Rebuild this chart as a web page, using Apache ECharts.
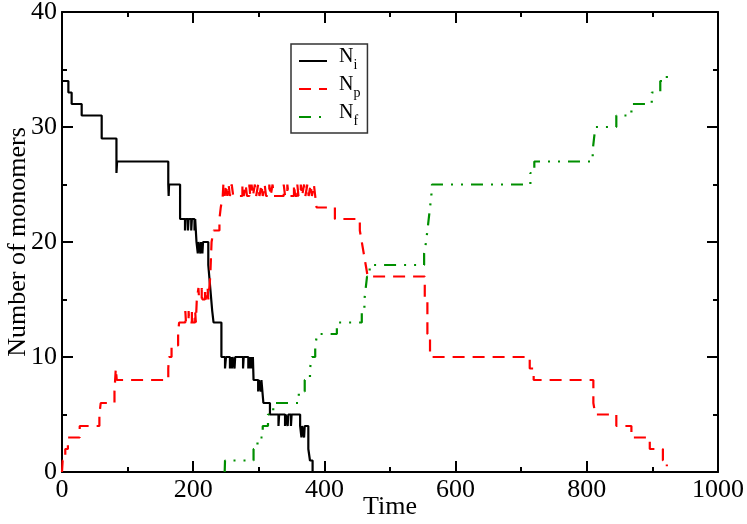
<!DOCTYPE html>
<html>
<head>
<meta charset="utf-8">
<script src="https://cdn.jsdelivr.net/npm/echarts@6/dist/echarts.min.js"></script>
<style>
html, body { margin: 0; padding: 0; background: #fff; }
#main { width: 747px; height: 524px; }
</style>
</head>
<body>
<div id="main"></div>
<script>
// N_i : black, solid
var niTime = [0, 9.7, 14.7, 30, 60.5, 83, 84, 162, 162.6, 163.2, 180,
    187.5, 188.5, 192, 193, 197, 198, 202, 203, 205,
    207, 208, 211, 212, 214, 215, 223, 226, 229, 231, 243,
    248.5, 250, 256, 257, 259, 260, 263, 264, 276, 277, 284, 285, 287, 288, 290, 291,
    292, 299, 300, 303, 304, 307, 317, 330, 331, 340, 341, 344, 345, 349, 350,
    363, 365, 366, 369, 370, 375.5, 378, 382];
var niCount = [34, 33, 32, 31, 29, 26, 27, 25, 24, 25, 22,
    21, 22, 21, 22, 21, 22, 21, 22, 20,
    19, 20, 19, 20, 19, 20, 18, 16, 14, 13, 10,
    9, 10, 9, 10, 9, 10, 9, 10, 9, 10, 9, 10, 9, 10, 9, 10,
    8, 7, 8, 7, 8, 6, 5, 4, 5, 4, 5, 4, 5, 4, 5,
    4, 3, 4, 3, 4, 2, 1, 0];

// N_p : red, dashed
var npTime = [0, 1, 5, 9, 27, 57, 59, 80, 81, 82, 83.5, 162, 163, 167, 177, 178.5,
    188, 189, 193, 194, 198, 199, 203, 204, 205.5, 208, 209, 213, 214, 218, 219, 222, 223,
    226, 228, 231, 240, 242, 245,
    246, 248, 250, 252, 254, 256, 258.7, 261, 275, 277, 280, 282, 285.6, 287, 289, 291,
    294, 296, 299, 301, 304, 306, 309, 311, 316, 318, 321, 323, 338, 340, 343.5, 345.5,
    353.6, 355.5, 358.7, 360.5, 364, 366, 369, 371, 374, 376, 379, 381, 384, 386,
    388, 416, 454, 457, 460, 463, 466, 553, 557, 561, 713, 719, 810, 813, 845, 868, 896, 916, 922];
var npCount = [0, 1, 2, 3, 4, 5, 6, 7, 8, 9, 8, 9, 10, 11, 12, 13,
    14, 13, 14, 13, 14, 13, 14, 13, 15, 16, 15, 16, 15, 16, 15, 16, 15,
    17, 20, 21, 22, 23, 24,
    25, 24, 25, 24, 25, 24, 25, 24, 25, 24, 25, 24, 25, 24, 25, 24,
    25, 24, 25, 24, 25, 24, 25, 24, 25, 24, 25, 24, 25, 24, 25, 24,
    25, 24, 25, 24, 25, 24, 25, 24, 25, 24, 25, 24, 25, 24,
    23, 22, 21, 20, 19, 18, 17, 15, 12, 10, 9, 8, 6, 5, 4, 3, 2, 1, 0.5];

// N_f : green, dash-dot-dot
var nfTime = [248, 248.5, 292, 298, 306, 314, 322, 361, 370, 378, 381, 386, 389, 419,
    457, 461, 463, 465, 469, 552, 555, 557, 559, 561, 563, 564,
    714, 720, 809, 811, 813, 845, 868, 899, 912, 922];
var nfCount = [0, 1, 2, 3, 4, 5, 6, 7, 8, 9, 10, 11, 12, 13,
    14, 15, 16, 17, 18, 19, 20, 21, 22, 23, 24, 25,
    26, 27, 28, 29, 30, 31, 32, 33, 34, 35];

var seriesNames = ['Ni', 'Np', 'Nf'];

function zip(t, n) {
    var out = [];
    for (var i = 0; i < t.length; i++) {
        out.push([t[i], n[i]]);
    }
    return out;
}

var serif = 'Liberation Serif';

function frameAxis(pos, min, max, interval, showLabel, name) {
    return {
        type: 'value',
        position: pos,
        min: min,
        max: max,
        interval: interval,
        name: name || '',
        nameLocation: 'middle',
        nameGap: (pos == 'left') ? 31 : 22,
        nameMoveOverlap: false,
        nameTextStyle: { fontFamily: serif, fontSize: 26, color: '#000' },
        axisLine: { show: true, onZero: false, lineStyle: { color: '#000', width: 2 } },
        axisTick: { show: true, inside: true, length: 11, lineStyle: { color: '#000', width: 2 } },
        minorTick: { show: true, splitNumber: 2, length: 5, lineStyle: { color: '#000', width: 2 } },
        axisLabel: {
            show: showLabel, fontFamily: serif, fontSize: 26, color: '#000', margin: 5,
            formatter: function (v) { return String(v); }
        },
        splitLine: { show: false }
    };
}

var myChart = echarts.init(document.getElementById('main'));
var option = {
    animation: false,
    backgroundColor: '#fff',
    grid: { left: 62, right: 29, top: 12, bottom: 52, containLabel: false, outerBoundsMode: 'none' },
    legend: {
        data: seriesNames,
        orient: 'vertical',
        left: 291,
        top: 44,
        padding: [3, 7, 2, 7],
        itemGap: 0,
        itemWidth: 28,
        itemHeight: 14,
        borderColor: '#333',
        borderWidth: 1.5,
        itemStyle: { opacity: 0 },
        formatter: function (name) {
            return '{n|N}{s|' + name.slice(1) + '}';
        },
        textStyle: {
            color: '#000',
            fontFamily: serif,
            rich: {
                n: { fontFamily: serif, fontSize: 20, lineHeight: 20, padding: [0, 0, 8, 7], color: '#000' },
                s: { fontFamily: serif, fontSize: 14, lineHeight: 14, padding: [8, 0, 0, 0], color: '#000' }
            }
        }
    },
    xAxis: [
        frameAxis('bottom', 0, 1000, 200, true, 'Time'),
        frameAxis('top', 0, 1000, 200, false)
    ],
    yAxis: [
        frameAxis('left', 0, 40, 10, true, 'Number of monomers'),
        frameAxis('right', 0, 40, 10, false)
    ],
    series: [
        {
            name: 'Ni', type: 'line', step: 'end', symbol: 'none', showSymbol: false,
            xAxisIndex: 0, yAxisIndex: 0,
            data: zip(niTime, niCount),
            lineStyle: { color: '#000', width: 2.2, type: 'solid' },
            itemStyle: { color: '#000' }
        },
        {
            name: 'Np', type: 'line', step: 'end', symbol: 'none', showSymbol: false,
            xAxisIndex: 0, yAxisIndex: 0,
            data: zip(npTime, npCount),
            lineStyle: { color: '#ff0000', width: 2.2, type: [12, 8] },
            itemStyle: { color: '#ff0000' }
        },
        {
            name: 'Nf', type: 'line', step: 'end', symbol: 'none', showSymbol: false,
            xAxisIndex: 0, yAxisIndex: 0,
            data: zip(nfTime, nfCount),
            lineStyle: { color: '#008f00', width: 2.2, type: [12, 8, 2, 8, 2, 8] },
            itemStyle: { color: '#008f00' }
        }
    ]
};
myChart.setOption(option);
</script>
</body>
</html>
